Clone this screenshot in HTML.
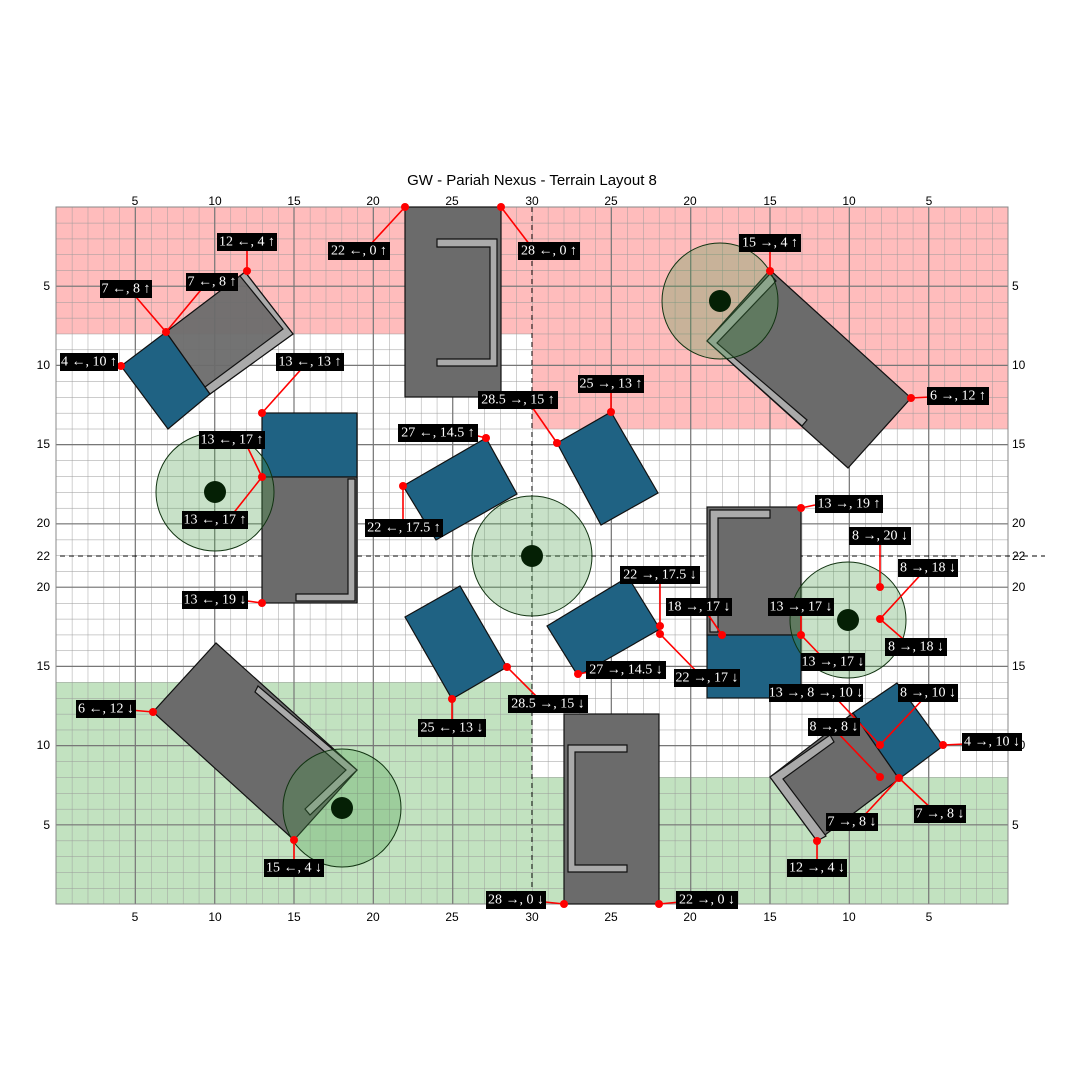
<!DOCTYPE html>
<html><head><meta charset="utf-8"><style>
body{margin:0;background:#fff}
svg{display:block}
.l rect{fill:#000}
.l text{fill:#fff;font-family:"Liberation Serif",serif;font-size:14px;text-anchor:middle;dominant-baseline:central}
.ax{font-family:"Liberation Sans",sans-serif;font-size:12px;fill:#000}
</style></head><body>
<svg width="1080" height="1080" viewBox="0 0 1080 1080" xmlns="http://www.w3.org/2000/svg">
<defs>
<pattern id="g" patternUnits="userSpaceOnUse" x="56" y="207" width="15.867" height="15.84">
<path d="M0 0H15.867M0 0V15.84" stroke="#999" stroke-width="0.9" fill="none"/>
</pattern>
</defs>
<rect x="0" y="0" width="1080" height="1080" fill="#fff"/>
<text x="532" y="185" text-anchor="middle" font-family="Liberation Sans,sans-serif" font-size="15">GW - Pariah Nexus - Terrain Layout 8</text>
<rect x="56" y="207" width="476" height="127" fill="#ffbcbc"/>
<rect x="532" y="207" width="476" height="222" fill="#ffbcbc"/>
<rect x="56" y="682" width="476" height="222" fill="#c2e2c0"/>
<rect x="532" y="777" width="476" height="127" fill="#c2e2c0"/>
<rect x="56" y="207" width="952" height="697" fill="url(#g)"/>
<g stroke="#777" stroke-width="1.2">
<line x1="135.3" y1="207" x2="135.3" y2="904"/><line x1="214.7" y1="207" x2="214.7" y2="904"/><line x1="294" y1="207" x2="294" y2="904"/><line x1="373.3" y1="207" x2="373.3" y2="904"/><line x1="452.7" y1="207" x2="452.7" y2="904"/><line x1="611.3" y1="207" x2="611.3" y2="904"/><line x1="690.7" y1="207" x2="690.7" y2="904"/><line x1="770" y1="207" x2="770" y2="904"/><line x1="849.3" y1="207" x2="849.3" y2="904"/><line x1="928.7" y1="207" x2="928.7" y2="904"/>
<line x1="56" y1="286.2" x2="1008" y2="286.2"/><line x1="56" y1="365.4" x2="1008" y2="365.4"/><line x1="56" y1="444.6" x2="1008" y2="444.6"/><line x1="56" y1="523.8" x2="1008" y2="523.8"/><line x1="56" y1="587.2" x2="1008" y2="587.2"/><line x1="56" y1="666.4" x2="1008" y2="666.4"/><line x1="56" y1="745.6" x2="1008" y2="745.6"/><line x1="56" y1="824.8" x2="1008" y2="824.8"/>
</g>
<rect x="56" y="207" width="952" height="697" fill="none" stroke="#888" stroke-width="1"/>
<g stroke="#000" stroke-width="1" stroke-dasharray="5,4">
<line x1="532" y1="207" x2="532" y2="904"/>
<line x1="60" y1="556" x2="1045" y2="556"/>
</g>
<g class="ax" text-anchor="middle">
<text x="135" y="205">5</text><text x="215" y="205">10</text><text x="294" y="205">15</text><text x="373" y="205">20</text><text x="452" y="205">25</text><text x="532" y="205">30</text><text x="611" y="205">25</text><text x="690" y="205">20</text><text x="770" y="205">15</text><text x="849" y="205">10</text><text x="929" y="205">5</text>
<text x="135" y="921">5</text><text x="215" y="921">10</text><text x="294" y="921">15</text><text x="373" y="921">20</text><text x="452" y="921">25</text><text x="532" y="921">30</text><text x="611" y="921">25</text><text x="690" y="921">20</text><text x="770" y="921">15</text><text x="849" y="921">10</text><text x="929" y="921">5</text>
</g>
<g class="ax" text-anchor="end">
<text x="50" y="290">5</text><text x="50" y="369">10</text><text x="50" y="448">15</text><text x="50" y="527">20</text><text x="50" y="560">22</text><text x="50" y="591">20</text><text x="50" y="670">15</text><text x="50" y="749">10</text><text x="50" y="829">5</text>
</g>
<g class="ax" text-anchor="start">
<text x="1012" y="290">5</text><text x="1012" y="369">10</text><text x="1012" y="448">15</text><text x="1012" y="527">20</text><text x="1012" y="560">22</text><text x="1012" y="591">20</text><text x="1012" y="670">15</text><text x="1012" y="749">10</text><text x="1012" y="829">5</text>
</g>
<g stroke="#111" stroke-width="1.2">
<polygon points="166,332 210,394 168,429 121,366" fill="#1f6283"/>
<polygon points="166,332 245,272 293,334 210,394" fill="#6b6b6b" fill-opacity="0.95"/>
<polygon points="245,272 293,334 210,394 205,387 283,329 240,276" fill="#aaa"/>
<rect x="405" y="207" width="96" height="190" fill="#6b6b6b"/>
<path d="M437 239H497V366H437V359H490V247H437Z" fill="#aaa"/>
<polygon points="770,270 911,398 848,468 707,341" fill="#6b6b6b"/>
<path d="M707 341L770 274L776 281L717 343L807 420L802 426Z" fill="#aaa"/>
<rect x="262" y="413" width="95" height="64" fill="#1f6283"/>
<rect x="262" y="477" width="95" height="126" fill="#6b6b6b"/>
<path d="M348 479H355V601H296V594H348Z" fill="#aaa"/>
<polygon points="403,486 486,438 517,494 436,540" fill="#1f6283"/>
<polygon points="557,443 611,412 658,493 601,525" fill="#1f6283"/>
<polygon points="405,617 460,586 507,667 452,699" fill="#1f6283"/>
<polygon points="547,626 628,577 660,629 578,676" fill="#1f6283"/>
<rect x="707" y="507" width="94" height="128" fill="#6b6b6b"/>
<path d="M710 510H770V518H718V632H710Z" fill="#aaa"/>
<rect x="707" y="635" width="94" height="63" fill="#1f6283"/>
<polygon points="853,713 897,683 943,746 899,779" fill="#1f6283"/>
<polygon points="853,713 899,779 817,841 770,777" fill="#6b6b6b"/>
<path d="M770 777L830 735L834 742L783 779L826 836L817 841Z" fill="#aaa"/>
<polygon points="216,643 357,770 294,840 153,712" fill="#6b6b6b"/>
<path d="M258 686L357 770L310 815L305 809L346 770L255 692Z" fill="#aaa"/>
<rect x="564" y="714" width="95" height="190" fill="#6b6b6b"/>
<path d="M568 745H627V752H575V865H627V872H568Z" fill="#aaa"/>
</g>
<g stroke="#113311" stroke-width="1">
<circle cx="720" cy="301" r="58" fill="#4a9a4a" fill-opacity="0.3"/>
<circle cx="215" cy="492" r="59" fill="#4a9a4a" fill-opacity="0.3"/>
<circle cx="532" cy="556" r="60" fill="#4a9a4a" fill-opacity="0.3"/>
<circle cx="848" cy="620" r="58" fill="#4a9a4a" fill-opacity="0.3"/>
<circle cx="342" cy="808" r="59" fill="#4a9a4a" fill-opacity="0.3"/>
</g>
<g fill="#052005">
<circle cx="720" cy="301" r="11"/><circle cx="215" cy="492" r="11"/><circle cx="532" cy="556" r="11"/><circle cx="848" cy="620" r="11"/><circle cx="342" cy="808" r="11"/>
</g>
<g stroke="#f00" stroke-width="1.6">
<line x1="405" y1="207" x2="370" y2="245"/><line x1="501" y1="207" x2="530" y2="245"/>
<line x1="247" y1="271" x2="247" y2="245"/>
<line x1="166" y1="332" x2="130" y2="290"/><line x1="166" y1="332" x2="205" y2="285"/>
<line x1="121" y1="366" x2="110" y2="363"/>
<line x1="262" y1="413" x2="305" y2="365"/>
<line x1="262" y1="477" x2="245" y2="442"/><line x1="262" y1="477" x2="232" y2="515"/>
<line x1="262" y1="603" x2="240" y2="600"/>
<line x1="486" y1="438" x2="470" y2="434"/>
<line x1="403" y1="486" x2="403" y2="525"/>
<line x1="557" y1="443" x2="530" y2="404"/>
<line x1="611" y1="412" x2="611" y2="386"/>
<line x1="770" y1="271" x2="770" y2="245"/>
<line x1="911" y1="398" x2="930" y2="397"/>
<line x1="801" y1="508" x2="815" y2="505"/>
<line x1="880" y1="587" x2="880" y2="540"/>
<line x1="880" y1="619" x2="925" y2="570"/><line x1="880" y1="619" x2="910" y2="645"/>
<line x1="801" y1="635" x2="801" y2="610"/><line x1="801" y1="635" x2="825" y2="660"/>
<line x1="722" y1="635" x2="705" y2="610"/>
<line x1="660" y1="626" x2="660" y2="578"/><line x1="660" y1="634" x2="700" y2="675"/>
<line x1="578" y1="674" x2="595" y2="671"/>
<line x1="507" y1="667" x2="540" y2="700"/>
<line x1="452" y1="699" x2="452" y2="725"/>
<line x1="153" y1="712" x2="130" y2="710"/>
<line x1="294" y1="840" x2="294" y2="865"/>
<line x1="880" y1="745" x2="835" y2="697"/><line x1="880" y1="745" x2="925" y2="697"/>
<line x1="943" y1="745" x2="965" y2="744"/>
<line x1="880" y1="777" x2="835" y2="730"/>
<line x1="899" y1="778" x2="860" y2="820"/><line x1="899" y1="778" x2="935" y2="812"/>
<line x1="817" y1="841" x2="817" y2="865"/>
<line x1="564" y1="904" x2="545" y2="902"/><line x1="659" y1="904" x2="680" y2="902"/>
</g>
<g fill="#f00">
<circle cx="405" cy="207" r="4"/><circle cx="501" cy="207" r="4"/><circle cx="247" cy="271" r="4"/><circle cx="166" cy="332" r="4"/><circle cx="121" cy="366" r="4"/><circle cx="262" cy="413" r="4"/><circle cx="262" cy="477" r="4"/><circle cx="262" cy="603" r="4"/><circle cx="486" cy="438" r="4"/><circle cx="403" cy="486" r="4"/><circle cx="557" cy="443" r="4"/><circle cx="611" cy="412" r="4"/><circle cx="770" cy="271" r="4"/><circle cx="911" cy="398" r="4"/><circle cx="801" cy="508" r="4"/><circle cx="880" cy="587" r="4"/><circle cx="880" cy="619" r="4"/><circle cx="801" cy="635" r="4"/><circle cx="722" cy="635" r="4"/><circle cx="660" cy="626" r="4"/><circle cx="660" cy="634" r="4"/><circle cx="578" cy="674" r="4"/><circle cx="507" cy="667" r="4"/><circle cx="452" cy="699" r="4"/><circle cx="153" cy="712" r="4"/><circle cx="294" cy="840" r="4"/><circle cx="880" cy="745" r="4"/><circle cx="943" cy="745" r="4"/><circle cx="880" cy="777" r="4"/><circle cx="899" cy="778" r="4"/><circle cx="817" cy="841" r="4"/><circle cx="564" cy="904" r="4"/><circle cx="659" cy="904" r="4"/>
</g>
<g class="l">
<rect x="328" y="242" width="62" height="18"/><text x="359" y="251">22 ←, 0 ↑</text>
<rect x="518" y="242" width="62" height="18"/><text x="549" y="251">28 ←, 0 ↑</text>
<rect x="217" y="233" width="60" height="18"/><text x="247" y="242">12 ←, 4 ↑</text>
<rect x="100" y="280" width="52" height="18"/><text x="126" y="289">7 ←, 8 ↑</text>
<rect x="186" y="273" width="52" height="18"/><text x="212" y="282">7 ←, 8 ↑</text>
<rect x="60" y="353" width="58" height="18"/><text x="89" y="362">4 ←, 10 ↑</text>
<rect x="276" y="353" width="68" height="18"/><text x="310" y="362">13 ←, 13 ↑</text>
<rect x="199" y="431" width="66" height="18"/><text x="232" y="440">13 ←, 17 ↑</text>
<rect x="182" y="511" width="66" height="18"/><text x="215" y="520">13 ←, 17 ↑</text>
<rect x="182" y="591" width="66" height="18"/><text x="215" y="600">13 ←, 19 ↓</text>
<rect x="398" y="424" width="80" height="18"/><text x="438" y="433">27 ←, 14.5 ↑</text>
<rect x="365" y="519" width="78" height="18"/><text x="404" y="528">22 ←, 17.5 ↑</text>
<rect x="478" y="391" width="80" height="18"/><text x="518" y="400">28.5 →, 15 ↑</text>
<rect x="578" y="375" width="66" height="18"/><text x="611" y="384">25 →, 13 ↑</text>
<rect x="739" y="234" width="62" height="18"/><text x="770" y="243">15 →, 4 ↑</text>
<rect x="927" y="387" width="62" height="18"/><text x="958" y="396">6 →, 12 ↑</text>
<rect x="815" y="495" width="68" height="18"/><text x="849" y="504">13 →, 19 ↑</text>
<rect x="849" y="527" width="62" height="18"/><text x="880" y="536">8 →, 20 ↓</text>
<rect x="898" y="559" width="60" height="18"/><text x="928" y="568">8 →, 18 ↓</text>
<rect x="885" y="638" width="62" height="18"/><text x="916" y="647">8 →, 18 ↓</text>
<rect x="768" y="598" width="66" height="18"/><text x="801" y="607">13 →, 17 ↓</text>
<rect x="801" y="653" width="64" height="18"/><text x="833" y="662">13 →, 17 ↓</text>
<rect x="666" y="598" width="66" height="18"/><text x="699" y="607">18 →, 17 ↓</text>
<rect x="620" y="566" width="80" height="18"/><text x="660" y="575">22 →, 17.5 ↓</text>
<rect x="674" y="669" width="66" height="18"/><text x="707" y="678">22 →, 17 ↓</text>
<rect x="586" y="661" width="80" height="18"/><text x="626" y="670">27 →, 14.5 ↓</text>
<rect x="508" y="695" width="80" height="18"/><text x="548" y="704">28.5 →, 15 ↓</text>
<rect x="418" y="719" width="68" height="18"/><text x="452" y="728">25 ←, 13 ↓</text>
<rect x="76" y="700" width="60" height="18"/><text x="106" y="709">6 ←, 12 ↓</text>
<rect x="264" y="859" width="60" height="18"/><text x="294" y="868">15 ←, 4 ↓</text>
<rect x="769" y="684" width="94" height="18"/><text x="816" y="693">13 →, 8 →, 10 ↓</text>
<rect x="898" y="684" width="60" height="18"/><text x="928" y="693">8 →, 10 ↓</text>
<rect x="962" y="733" width="60" height="18"/><text x="992" y="742">4 →, 10 ↓</text>
<rect x="808" y="718" width="52" height="18"/><text x="834" y="727">8 →, 8 ↓</text>
<rect x="826" y="813" width="52" height="18"/><text x="852" y="822">7 →, 8 ↓</text>
<rect x="914" y="805" width="52" height="18"/><text x="940" y="814">7 →, 8 ↓</text>
<rect x="787" y="859" width="60" height="18"/><text x="817" y="868">12 →, 4 ↓</text>
<rect x="486" y="891" width="60" height="18"/><text x="516" y="900">28 →, 0 ↓</text>
<rect x="676" y="891" width="62" height="18"/><text x="707" y="900">22 →, 0 ↓</text>
</g>
</svg>
</body></html>
